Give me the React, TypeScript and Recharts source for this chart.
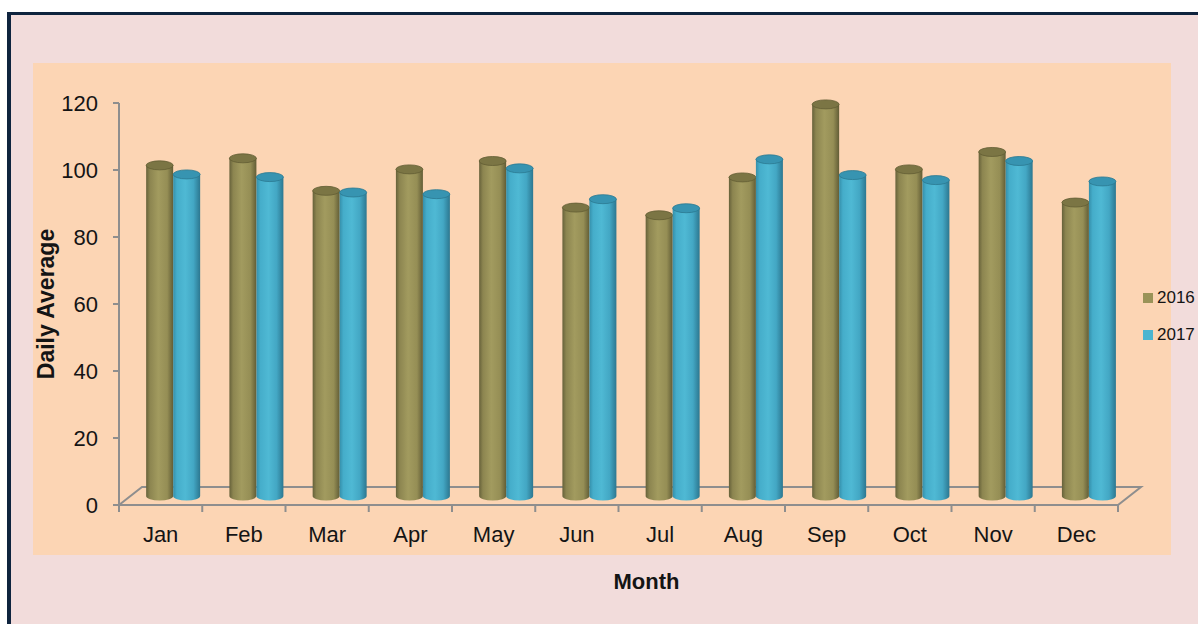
import React from "react";
import { BarChart, Bar, XAxis, YAxis, Legend, Customized } from "recharts";

const months = ["Jan", "Feb", "Mar", "Apr", "May", "Jun", "Jul", "Aug", "Sep", "Oct", "Nov", "Dec"];
const avg2016 = [98.7, 100.8, 91.1, 97.5, 100.0, 86.1, 83.8, 95.1, 116.9, 97.5, 102.7, 87.6];
const avg2017 = [96.0, 95.2, 90.6, 90.1, 97.8, 88.6, 85.9, 100.5, 95.8, 94.3, 100.0, 93.9];
const yTicks = [0, 20, 40, 60, 80, 100, 120];

const data = months.map((month, i) => ({ month, y2016: avg2016[i], y2017: avg2017[i] }));

const CHART_W = 1198;
const CHART_H = 624;
const PLOT_LEFT = 119;
const PLOT_RIGHT = 1118;
const PLOT_TOP = 103;
const PLOT_BOTTOM = 505;
const X_AXIS_H = 85;
const Y_AXIS_W = 79;
const BAND = (PLOT_RIGHT - PLOT_LEFT) / months.length;

// fake 3d: floor depth and bar position inside it
const DEPTH = { dx: 23, dy: -18 };
const BAR_SHIFT = { dx: 13, dy: -9 };

const FONT = "'Liberation Sans', Arial, sans-serif";
const AXIS_GRAY = "#8e8e8e";

const COLORS: Record<string, { fill: string; cap: string; capStroke: string }> = {
  y2016: { fill: "#9a9358", cap: "#7b7544", capStroke: "#625d33" },
  y2017: { fill: "#4bb5d0", cap: "#3794b1", capStroke: "#2b7891" },
};

function Cylinder(props: any) {
  const { x, y, width, height, gradId, cap, capStroke } = props;
  if (height == null || width == null) return null;
  const left = x + BAR_SHIFT.dx;
  const top = y + BAR_SHIFT.dy;
  const bottom = y + height + BAR_SHIFT.dy;
  const rx = width / 2;
  const ry = 4.5;
  return (
    <g>
      <path
        d={`M${left},${top} L${left},${bottom} A${rx},${ry} 0 0 0 ${left + width},${bottom} L${left + width},${top} Z`}
        fill={`url(#${gradId})`}
      />
      <ellipse cx={left + rx} cy={top} rx={rx} ry={ry} fill={cap} stroke={capStroke} strokeWidth={0.8} />
    </g>
  );
}

function Floor() {
  const pts = [
    [PLOT_LEFT, PLOT_BOTTOM],
    [PLOT_LEFT + DEPTH.dx, PLOT_BOTTOM + DEPTH.dy],
    [PLOT_RIGHT + DEPTH.dx, PLOT_BOTTOM + DEPTH.dy],
    [PLOT_RIGHT, PLOT_BOTTOM],
  ]
    .map((p) => p.join(","))
    .join(" ");
  return (
    <g>
      <defs>
        <linearGradient id="g2016" x1="0" x2="1" y1="0" y2="0">
          <stop offset="0%" stopColor="#66613a" />
          <stop offset="14%" stopColor="#8c8550" />
          <stop offset="45%" stopColor="#a29b5f" />
          <stop offset="78%" stopColor="#958e55" />
          <stop offset="100%" stopColor="#625d36" />
        </linearGradient>
        <linearGradient id="g2017" x1="0" x2="1" y1="0" y2="0">
          <stop offset="0%" stopColor="#358faa" />
          <stop offset="14%" stopColor="#45adca" />
          <stop offset="45%" stopColor="#4fb9d4" />
          <stop offset="75%" stopColor="#43a7c4" />
          <stop offset="100%" stopColor="#2c7790" />
        </linearGradient>
      </defs>
      <polygon points={pts} fill="none" stroke={AXIS_GRAY} strokeWidth={2} />
    </g>
  );
}

function MonthTick(props: any) {
  const { x, y, payload, index } = props;
  const bx = x - BAND / 2;
  return (
    <g>
      <line x1={bx} x2={bx} y1={PLOT_BOTTOM} y2={PLOT_BOTTOM + 7} stroke={AXIS_GRAY} strokeWidth={2} />
      {index === months.length - 1 && (
        <line x1={bx + BAND} x2={bx + BAND} y1={PLOT_BOTTOM} y2={PLOT_BOTTOM + 7} stroke={AXIS_GRAY} strokeWidth={2} />
      )}
      <text x={x} y={y} dy={16} textAnchor="middle" fontSize={22} fontFamily={FONT} fill="#141414">
        {payload.value}
      </text>
    </g>
  );
}

function renderLegend(props: any) {
  const { payload } = props;
  return (
    <div style={{ fontFamily: FONT, fontSize: 17, color: "#141414" }}>
      {payload.map((entry: any) => (
        <div key={entry.value} style={{ display: "flex", alignItems: "center", height: 37, whiteSpace: "nowrap" }}>
          <div
            style={{
              width: 10,
              height: 10,
              flex: "0 0 10px",
              background: COLORS[entry.dataKey]?.fill ?? entry.color,
              marginRight: 4,
            }}
          />
          <span>{entry.value}</span>
        </div>
      ))}
    </div>
  );
}

export default function App() {
  return (
    <div style={{ position: "relative", width: CHART_W, height: CHART_H, overflow: "hidden", background: "#ffffff" }}>
      <style>{"body{margin:0}"}</style>
      <div
        style={{
          position: "absolute",
          left: 7,
          top: 12,
          width: 1300,
          height: 700,
          borderTop: "3px solid #0f243e",
          borderLeft: "4px solid #0f243e",
          background: "#f2dcdb",
        }}
      />
      <div style={{ position: "absolute", left: 33, top: 63, width: 1138, height: 492, background: "#fcd5b4" }} />
      <div style={{ position: "absolute", left: 0, top: 0 }}>
        <BarChart
          width={CHART_W}
          height={CHART_H}
          data={data}
          margin={{
            top: PLOT_TOP,
            right: CHART_W - PLOT_RIGHT,
            bottom: CHART_H - PLOT_BOTTOM - X_AXIS_H,
            left: PLOT_LEFT - Y_AXIS_W,
          }}
          barCategoryGap="17%"
          barGap={0}
        >
          <Customized component={Floor} />
          <XAxis
            dataKey="month"
            height={X_AXIS_H}
            axisLine={false}
            tickLine={false}
            tickSize={7}
            tickMargin={14}
            interval={0}
            tick={<MonthTick />}
            label={{
              value: "Month",
              position: "insideBottom",
              offset: 1,
              dx: 28,
              fontSize: 22,
              fontWeight: 700,
              fontFamily: FONT,
              fill: "#141414",
            }}
          />
          <YAxis
            width={Y_AXIS_W}
            domain={[0, 120]}
            ticks={yTicks}
            interval={0}
            axisLine={{ stroke: AXIS_GRAY, strokeWidth: 2 }}
            tickLine={{ stroke: AXIS_GRAY, strokeWidth: 2 }}
            tickSize={6}
            tickMargin={15}
            tick={{ fontSize: 22, fontFamily: FONT, fill: "#141414" }}
            label={{
              value: "Daily Average",
              angle: -90,
              position: "insideLeft",
              offset: 6,
              fontSize: 23,
              fontWeight: 700,
              fontFamily: FONT,
              fill: "#141414",
              style: { textAnchor: "middle" },
            }}
          />
          <Legend
            content={renderLegend}
            wrapperStyle={{ position: "absolute", left: 1143, top: 279, width: 0, height: 0, overflow: "visible" }}
          />
          <Bar
            dataKey="y2016"
            name="2016"
            fill={COLORS.y2016.fill}
            isAnimationActive={false}
            shape={(p: any) => <Cylinder {...p} gradId="g2016" cap={COLORS.y2016.cap} capStroke={COLORS.y2016.capStroke} />}
          />
          <Bar
            dataKey="y2017"
            name="2017"
            fill={COLORS.y2017.fill}
            isAnimationActive={false}
            shape={(p: any) => <Cylinder {...p} gradId="g2017" cap={COLORS.y2017.cap} capStroke={COLORS.y2017.capStroke} />}
          />
        </BarChart>
      </div>
    </div>
  );
}
